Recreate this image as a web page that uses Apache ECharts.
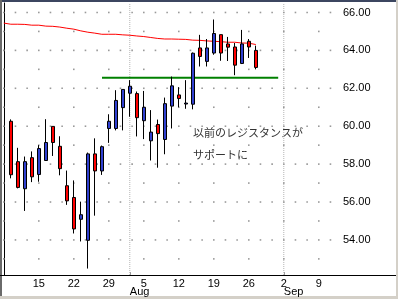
<!DOCTYPE html>
<html>
<head>
<meta charset="utf-8">
<script src="https://cdn.jsdelivr.net/npm/echarts@6/dist/echarts.min.js"></script>
<style>
  html, body { margin: 0; padding: 0; background: #fff; }
  #chart { width: 398px; height: 299px; }
</style>
</head>
<body>
<div id="chart"></div>
<script>
// trading day index (0 = Jul 8)
var days   = [1, 2, 3, 4, 5, 6, 7, 8, 9, 10, 11, 12, 13, 14, 15, 16, 17, 18, 19, 20, 21, 22, 23, 24, 25, 26, 27, 28, 29, 30, 31, 32, 33, 34, 35, 36];
var opens  = [60.26, 58.13, 56.70, 58.34, 57.45, 58.19, 59.99, 58.94, 56.86, 56.24, 55.09, 53.98, 58.54, 57.64, 59.88, 59.88, 60.98, 61.74, 61.72, 60.29, 59.23, 60.09, 59.30, 61.06, 61.65, 61.17, 61.16, 64.13, 63.42, 63.86, 64.83, 64.34, 64.18, 63.31, 64.48, 64.00];
var closes = [57.44, 56.77, 58.13, 57.33, 58.82, 59.14, 59.14, 57.76, 56.06, 54.58, 55.33, 58.54, 57.64, 58.92, 60.26, 61.36, 61.94, 62.11, 60.45, 61.00, 59.69, 59.61, 61.19, 62.13, 61.46, 61.22, 63.85, 63.68, 64.13, 64.89, 63.86, 64.17, 63.22, 64.34, 64.18, 63.10];
var lows   = [57.25, 56.72, 55.53, 57.05, 57.07, 58.19, 58.43, 57.41, 55.85, 54.34, 53.92, 52.49, 55.28, 57.43, 59.12, 59.78, 59.78, 60.50, 59.46, 59.32, 58.19, 57.81, 58.52, 59.88, 61.00, 60.92, 60.89, 63.15, 63.15, 63.77, 63.45, 63.44, 62.69, 63.28, 63.60, 63.00];
var highs  = [60.36, 58.86, 58.40, 58.67, 59.00, 60.37, 59.99, 59.47, 57.66, 57.14, 56.02, 58.61, 59.36, 58.98, 60.63, 61.90, 61.94, 62.43, 61.83, 61.86, 60.85, 60.35, 61.51, 62.62, 62.06, 62.43, 63.89, 64.82, 64.60, 65.63, 64.83, 64.71, 64.39, 65.08, 64.60, 64.25];

// moving average, from day 0
var maDays = [0, 1, 2, 3, 4, 5, 6, 7, 8, 9, 10, 11, 12, 13, 14, 15, 16, 17, 18, 19, 20, 21, 22, 23, 24, 25, 26, 27, 28, 29, 30, 31, 32, 33, 34, 35, 36];
var maValues = [65.44, 65.38, 65.38, 65.37, 65.33, 65.33, 65.28, 65.27, 65.23, 65.17, 65.12, 65.03, 64.96, 64.91, 64.85, 64.85, 64.85, 64.82, 64.80, 64.76, 64.73, 64.68, 64.63, 64.60, 64.60, 64.59, 64.58, 64.54, 64.53, 64.50, 64.48, 64.46, 64.43, 64.43, 64.39, 64.38, 64.31];

// support line (old resistance)
var supportDays = [14.03, 39.2];
var supportLevel = 62.55;

// x labels (mondays) and months
var weekDays = [5, 10, 15, 20, 25, 30, 35, 40, 45];
var weekLabels = ['15', '22', '29', '5', '12', '19', '26', '2', '9'];
var monthDays = [18, 40];
var monthLabels = ['Aug', 'Sep'];

// price ticks
var majorTicks = [54, 56, 58, 60, 62, 64, 66];
var minorTicks = [53, 55, 57, 59, 61, 63, 65];

var xMin = -0.543, xMax = 48.03;
var yMin = 52.15, yMax = 66.5;
var gridColor = '#9a9a9a';

var candleData = [];
for (var i = 0; i < days.length; i++) {
  candleData.push([days[i], opens[i], closes[i], lows[i], highs[i]]);
}
var maData = maDays.map(function (d, i) { return [d, maValues[i]]; });
var supportData = supportDays.map(function (d) { return [d, supportLevel]; });

// dotted grid: dots every third of a week on major rows, one per week on minor rows
var gridDots = [];
majorTicks.forEach(function (v) {
  for (var j = 0; j * 5 / 3 < xMax; j++) gridDots.push([j * 5 / 3, v]);
});
minorTicks.forEach(function (v) {
  for (var k = 0; k * 5 < xMax; k++) gridDots.push([k * 5, v]);
});

var gridSeries = [{
  type: 'scatter', silent: true, z: 2,
  data: gridDots,
  symbol: 'rect',
  symbolSize: 1.6,
  itemStyle: { color: gridColor, opacity: 1 }
}];
monthDays.forEach(function (d) {
  gridSeries.push({
    type: 'line', silent: true, symbol: 'none', z: 1,
    data: [[d, yMin], [d, yMax]],
    lineStyle: { color: '#b4b4b4', width: 1, type: 'dotted' }
  });
});

var chart = echarts.init(document.getElementById('chart'));
chart.setOption({
  backgroundColor: '#fff',
  animation: false,
  grid: { left: 0, right: 58, top: 3, bottom: 24 },
  xAxis: [
    {
      type: 'value',
      min: xMin,
      max: xMax,
      axisLine: { show: true, lineStyle: { color: '#000', width: 1 } },
      axisTick: { show: false },
      splitLine: { show: false },
      axisLabel: {
        customValues: weekDays,
        formatter: function (v) { return weekLabels[weekDays.indexOf(v)]; },
        color: '#000',
        fontFamily: 'Liberation Sans',
        fontSize: 11,
        margin: 3
      }
    },
    {
      type: 'value',
      min: xMin,
      max: xMax,
      position: 'bottom',
      axisLine: { show: false },
      axisTick: { show: true, inside: true, length: 3, customValues: monthDays, lineStyle: { color: '#999' } },
      splitLine: { show: false },
      axisLabel: {
        customValues: monthDays,
        formatter: function (v) { return monthLabels[monthDays.indexOf(v)]; },
        align: 'left',
        color: '#000',
        fontFamily: 'Liberation Sans',
        fontSize: 11,
        margin: 11
      }
    }
  ],
  yAxis: {
    type: 'value',
    position: 'right',
    min: yMin,
    max: yMax,
    scale: true,
    axisLine: { show: true, lineStyle: { color: '#000', width: 1 } },
    axisTick: { show: false },
    splitLine: { show: false },
    axisLabel: {
      customValues: majorTicks,
      formatter: function (v) { return v.toFixed(2); },
      color: '#000',
      fontFamily: 'Liberation Sans',
      fontSize: 11,
      margin: 3
    }
  },
  series: gridSeries.concat([
    {
      name: 'MA',
      type: 'line',
      data: maData,
      symbol: 'none',
      z: 3,
      lineStyle: { color: '#ff0000', width: 1 }
    },
    {
      name: 'support',
      type: 'line',
      data: supportData,
      symbol: 'none',
      z: 3,
      lineStyle: { color: '#008000', width: 2 }
    },
    {
      name: 'price',
      type: 'candlestick',
      data: candleData,
      barWidth: 4,
      z: 4,
      itemStyle: {
        color: '#3040d0',
        color0: '#ff0000',
        borderColor: '#000',
        borderColor0: '#000',
        borderColorDoji: '#000',
        borderWidth: 1
      }
    }
  ]),
  graphic: [
    { type: 'line', shape: { x1: 340, y1: 275.5, x2: 398, y2: 275.5 }, style: { stroke: '#000', lineWidth: 1 } },
    { type: 'text', left: 193, top: 127, style: { text: '以前のレジスタンスが', fill: '#333', font: '11px "Noto Sans CJK JP"' } },
    { type: 'text', left: 193, top: 149, style: { text: 'サポートに', fill: '#333', font: '11px "Noto Sans CJK JP"' } },
    { type: 'rect', shape: { x: 0, y: 0, width: 398, height: 2 }, style: { fill: '#3c4660' } },
    { type: 'rect', shape: { x: 0, y: 0, width: 2, height: 299 }, style: { fill: '#6a6a6a' } },
    { type: 'rect', shape: { x: 0, y: 296, width: 398, height: 3 }, style: { fill: '#d4d0c8' } },
    { type: 'rect', shape: { x: 396, y: 0, width: 2, height: 299 }, style: { fill: '#d4d0c8' } }
  ]
});
</script>
</body>
</html>
